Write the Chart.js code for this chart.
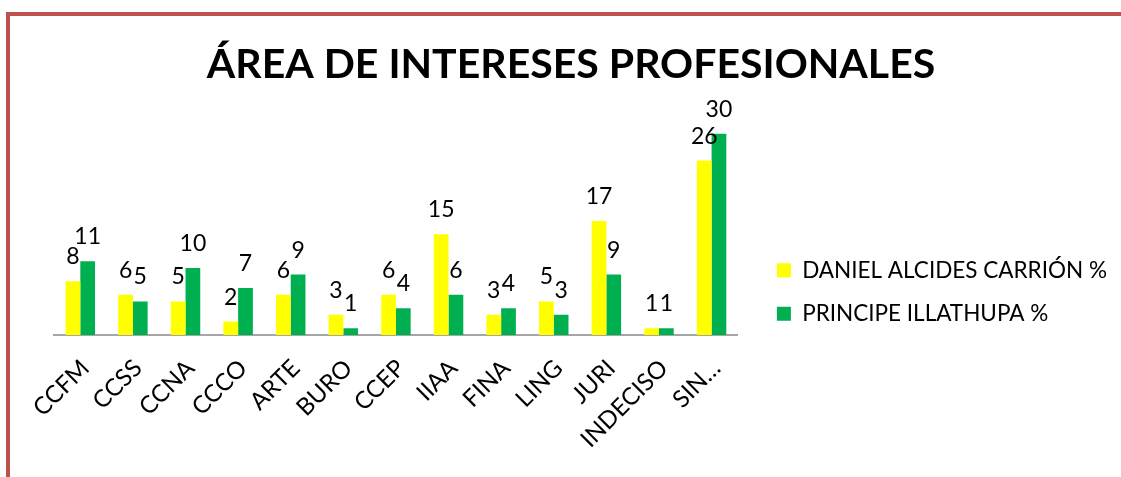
<!DOCTYPE html>
<html lang="es">
<head>
    <meta charset="UTF-8">
    <title>Área de intereses profesionales</title>
    <script src="https://cdn.jsdelivr.net/npm/chart.js"></script>
    <style>
        html, body { margin: 0; padding: 0; background: #fff; overflow: hidden; }
        .frame {
            position: absolute;
            left: 6px;
            top: 12px;
            width: 1200px;
            height: 600px;
            border: 4px solid #C0504D;
        }
        .wrap {
            position: absolute;
            left: 0;
            top: 0;
            width: 1121px;
            height: 477px;
        }
    </style>
</head>
<body>
    <div class="frame"></div>
    <div class="wrap"><canvas id="chart"></canvas></div>

    <script>
        const categories = ['CCFM', 'CCSS', 'CCNA', 'CCCO', 'ARTE', 'BURO', 'CCEP', 'IIAA', 'FINA', 'LING', 'JURI', 'INDECISO', 'SIN…'];
        const danielAlcidesCarrion = [8, 6, 5, 2, 6, 3, 6, 15, 3, 5, 17, 1, 26];
        const principeIllathupa = [11, 5, 10, 7, 9, 1, 4, 6, 4, 3, 9, 1, 30];

        // numbers written above each bar
        const valueLabels = {
            id: 'valueLabels',
            afterDatasetsDraw(chart) {
                const ctx = chart.ctx;
                ctx.save();
                ctx.font = '23px Lato';
                ctx.fillStyle = '#000';
                ctx.textAlign = 'center';
                ctx.textBaseline = 'alphabetic';
                chart.data.datasets.forEach((ds, i) => {
                    chart.getDatasetMeta(i).data.forEach((bar, j) => {
                        ctx.fillText(ds.data[j], bar.x, bar.y - 17);
                    });
                });
                ctx.restore();
            }
        };

        // invisible strips that only take up room beside the plot
        const blankAxis = (position, width) => ({
            position,
            grid: { display: false },
            border: { display: false },
            ticks: { display: false },
            afterFit(scale) { scale.width = width; }
        });

        new Chart(document.getElementById('chart'), {
            type: 'bar',
            data: {
                labels: categories,
                datasets: [{
                    label: 'DANIEL ALCIDES CARRIÓN %',
                    data: danielAlcidesCarrion,
                    backgroundColor: '#FFFF00'
                }, {
                    label: 'PRINCIPE ILLATHUPA %',
                    data: principeIllathupa,
                    backgroundColor: '#00B050'
                }]
            },
            options: {
                responsive: true,
                maintainAspectRatio: false,
                animation: false,
                layout: { padding: { top: 40, left: 25, right: 4, bottom: 0 } },
                datasets: {
                    bar: { categoryPercentage: 0.56, barPercentage: 1.0 }
                },
                plugins: {
                    title: {
                        display: true,
                        text: 'ÁREA DE INTERESES PROFESIONALES',
                        color: '#000',
                        font: { family: 'Lato', size: 41, weight: 'bold' },
                        padding: { top: 0, bottom: 11 }
                    },
                    legend: {
                        position: 'right',
                        maxWidth: 400,
                        // empty title only pushes the two entries down
                        title: { display: true, text: ' ', padding: { top: 43, bottom: 0 }, font: { size: 20 } },
                        labels: {
                            color: '#000',
                            font: { family: 'Lato', size: 22.5 },
                            boxWidth: 14,
                            boxHeight: 14,
                            padding: 21
                        }
                    },
                    tooltip: { enabled: false }
                },
                scales: {
                    x: {
                        grid: { display: false },
                        border: { display: true, color: '#A6A6A6', width: 2 },
                        ticks: {
                            color: '#000',
                            font: { family: 'Lato', size: 24 },
                            minRotation: 45,
                            maxRotation: 45,
                            autoSkip: false,
                            labelOffset: 5,
                            padding: 11
                        },
                        afterFit(scale) { scale.height = 142; }
                    },
                    y: {
                        display: false,
                        min: 0,
                        max: 35
                    },
                    gapLeft: blankAxis('left', 29),
                    gapRight: blankAxis('right', 18)
                }
            },
            plugins: [valueLabels]
        });
    </script>
</body>
</html>
